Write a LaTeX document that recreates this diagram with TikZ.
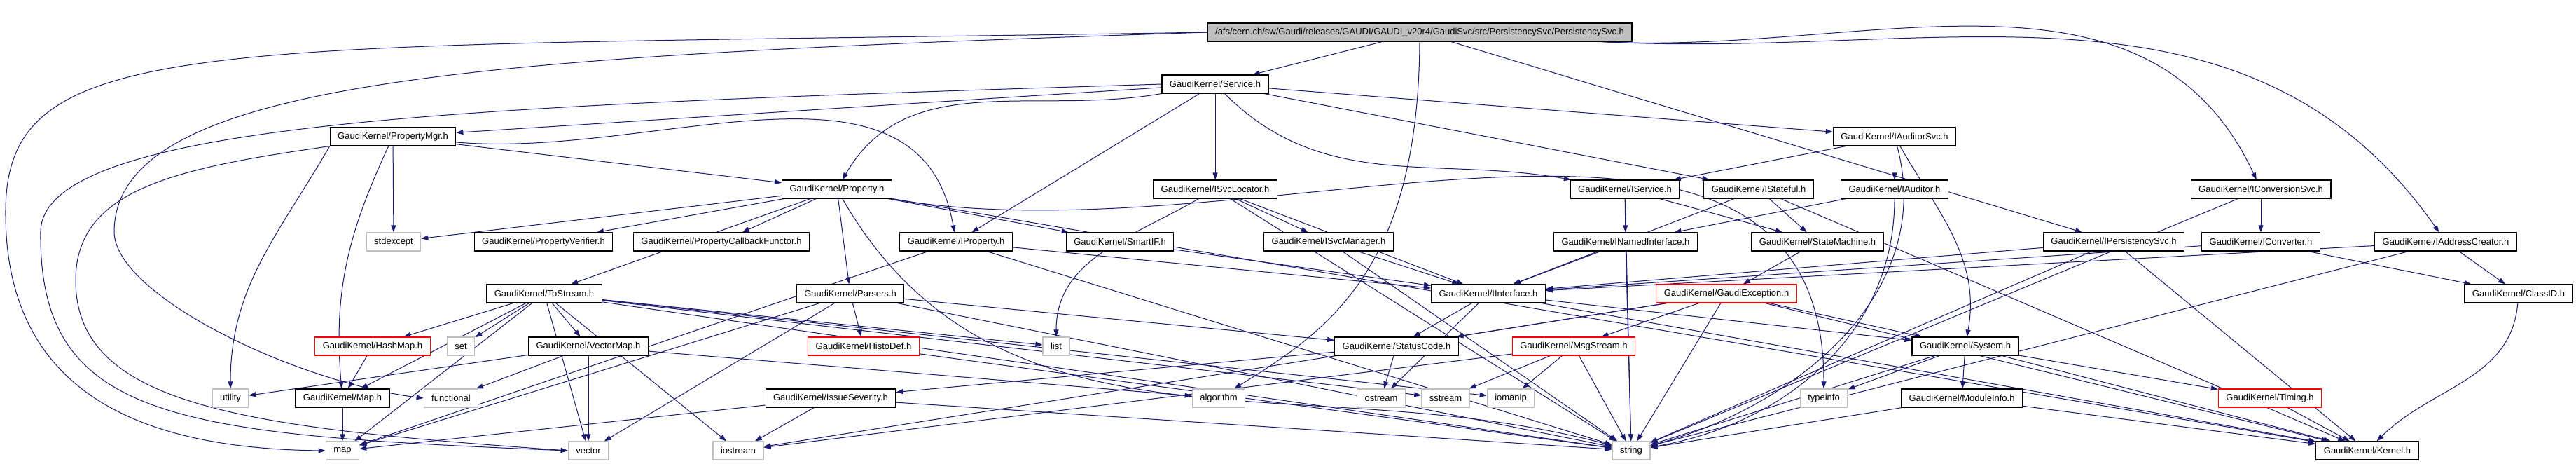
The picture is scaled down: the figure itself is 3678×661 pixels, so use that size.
\documentclass[tikz,border=0pt]{standalone}
\usepackage{fontspec}
\setmainfont{Liberation Sans}
\usepackage{xcolor}
\usepackage{tikz}
\usetikzlibrary{arrows.meta,backgrounds}
\definecolor{doxblue}{HTML}{191970}
\definecolor{doxgray}{HTML}{BFBFBF}
\tikzset{hfile/.style={rectangle,draw=black,fill=white,line width=0.6pt,inner xsep=5.5pt,
           minimum height=13pt,font=\fontsize{6.5}{7.5}\selectfont},
  sysfile/.style={hfile,draw=doxgray},
  redfile/.style={hfile,draw=red},
  rootfile/.style={hfile,fill=doxgray},
  dline/.style={draw=doxblue,line width=0.5pt}
}
\begin{document}
\begin{tikzpicture}[x=0.5pt,y=-0.5pt]
  \useasboundingbox (0,0) rectangle (3678,661);
  \begin{scope}[every node/.style={hfile}]
    \node[rootfile] (root) at (2027,46) {/afs/cern.ch/sw/Gaudi/releases/GAUDI/GAUDI\_v20r4/GaudiSvc/src/PersistencySvc/PersistencySvc.h};
    \node (service) at (1735,120) {GaudiKernel/Service.h};
    \node (propmgr) at (561,195) {GaudiKernel/PropertyMgr.h};
    \node (auditorsvc) at (2705,195) {GaudiKernel/IAuditorSvc.h};
    \node (property) at (1195,270) {GaudiKernel/Property.h};
    \node (svclocator) at (1735,270) {GaudiKernel/ISvcLocator.h};
    \node (iservice) at (2320,270) {GaudiKernel/IService.h};
    \node (istateful) at (2511,270) {GaudiKernel/IStateful.h};
    \node (iauditor) at (2705,270) {GaudiKernel/IAuditor.h};
    \node (convsvc) at (3228,270) {GaudiKernel/IConversionSvc.h};
    \node[sysfile] (stdexcept) at (562,345) {stdexcept};
    \node (propverifier) at (776,345) {GaudiKernel/PropertyVerifier.h};
    \node (propcallback) at (1030,345) {GaudiKernel/PropertyCallbackFunctor.h};
    \node (iproperty) at (1365,345) {GaudiKernel/IProperty.h};
    \node (smartif) at (1599,345) {GaudiKernel/SmartIF.h};
    \node (svcmanager) at (1897,345) {GaudiKernel/ISvcManager.h};
    \node (namedif) at (2321,345) {GaudiKernel/INamedInterface.h};
    \node (statemachine) at (2595,345) {GaudiKernel/StateMachine.h};
    \node (persistsvc) at (3018,345) {GaudiKernel/IPersistencySvc.h};
    \node (iconverter) at (3228,345) {GaudiKernel/IConverter.h};
    \node (addrcreator) at (3492,345) {GaudiKernel/IAddressCreator.h};
    \node (tostream) at (777,419) {GaudiKernel/ToStream.h};
    \node (parsers) at (1214,419) {GaudiKernel/Parsers.h};
    \node (iinterface) at (2125,419) {GaudiKernel/IInterface.h};
    \node[redfile] (gaudiexc) at (2465,419) {GaudiKernel/GaudiException.h};
    \node (classid) at (3596,419) {GaudiKernel/ClassID.h};
    \node[redfile] (hashmap) at (532,494) {GaudiKernel/HashMap.h};
    \node[sysfile] (set) at (658,494) {set};
    \node (vectormap) at (840,494) {GaudiKernel/VectorMap.h};
    \node[redfile] (histodef) at (1233,494) {GaudiKernel/HistoDef.h};
    \node[sysfile] (list) at (1508,494) {list};
    \node (statuscode) at (1994,494) {GaudiKernel/StatusCode.h};
    \node[redfile] (msgstream) at (2247,494) {GaudiKernel/MsgStream.h};
    \node (system) at (2806,494) {GaudiKernel/System.h};
    \node[sysfile] (utility) at (329,568) {utility};
    \node (maph) at (489,568) {GaudiKernel/Map.h};
    \node[sysfile] (functional) at (644,568) {functional};
    \node (issuesev) at (1186,568) {GaudiKernel/IssueSeverity.h};
    \node[sysfile] (algorithm) at (1740,568) {algorithm};
    \node[sysfile] (ostream) at (1972,568) {ostream};
    \node[sysfile] (sstream) at (2064,568) {sstream};
    \node[sysfile] (iomanip) at (2157,568) {iomanip};
    \node[sysfile] (typeinfo) at (2604,568) {typeinfo};
    \node (moduleinfo) at (2801,568) {GaudiKernel/ModuleInfo.h};
    \node[redfile] (timing) at (3241,568) {GaudiKernel/Timing.h};
    \node[sysfile] (map) at (489,643) {map};
    \node[sysfile] (vector) at (840,643) {vector};
    \node[sysfile] (iostream) at (1054,643) {iostream};
    \node[sysfile] (string) at (2329,643) {string};
    \node (kernel) at (3380,643) {GaudiKernel/Kernel.h};
  \end{scope}
  % include edges, kept behind the boxes:
  \begin{pgfonlayer}{background}
  \begin{scope}[>={Triangle[length=5pt,width=3.5pt]},
                every edge/.style={dline}]
    % the long ones round the left side
    \draw [dline,->] (root.west) .. controls (300,70) and (10,40) .. (8,300)
          .. controls (6,560) and (200,640) .. (map.west);
    \draw [dline,->] (root.west) .. controls (700,80) and (165,110) .. (163,330)
          .. controls (162,420) and (420,545) .. (functional.west);
    \draw [dline,->] (service.west) .. controls (700,150) and (62,170) .. (58,330)
          .. controls (55,600) and (250,620) .. (vector.west);
    \draw [dline,->] (propmgr.south west) .. controls (250,240) and (108,270) .. (108,400)
          .. controls (108,580) and (350,610) .. (vector.west);
    \draw [dline,->] (root.south) .. controls (2025,380) and (1900,470) .. (algorithm);
    \path [->] (root) edge (service);
    \path [->] (root) edge (persistsvc);
    \path [->] (root) edge[out=-3,in=115] (convsvc);
    \path [->] (root) edge[out=-3,in=125] (addrcreator);
    \path [->] (service) edge (propmgr);
    \path [->] (service) edge[out=190,in=60] (property);
    \path [->] (service) edge (iproperty);
    \path [->] (service) edge (svclocator);
    \path [->] (service) edge[out=-45,in=170] (iservice);
    \path [->] (service) edge (istateful);
    \path [->] (service) edge (auditorsvc);
    \path [->] (propmgr.south west) edge[out=-120,in=90] (utility);
    \path [->] (propmgr) edge[out=-115,in=95] (maph);
    \path [->] (propmgr) edge (stdexcept);
    \path [->] (propmgr) edge[out=-5,in=100] (iproperty);
    \path [->] (propmgr) edge (property);
    \path [->] (auditorsvc) edge (iservice);
    \path [->] (auditorsvc) edge (iauditor);
    \path [->] (auditorsvc) edge[out=-60,in=80] (system);
    \path [->] (auditorsvc) edge[out=-75,in=15] (string);
    \path [->] (property) edge (stdexcept);
    \path [->] (property) edge (propverifier);
    \path [->] (property) edge (propcallback);
    \path [->] (property) edge (tostream);
    \path [->] (property) edge (parsers);
    \path [->] (property) edge (smartif);
    \path [->] (property) edge[out=-60,in=165] (string);
    \path [->] (property) edge[out=-10,in=90] (typeinfo);
    \path [->] (property) edge (kernel);
    \path [->] (svclocator) edge (svcmanager);
    \path [->] (svclocator) edge (iinterface);
    \path [->] (svclocator) edge[out=-150,in=90] (list);
    \path [->] (svclocator) edge (string);
    \path [->] (iservice) edge (namedif);
    \path [->] (iservice) edge (statemachine);
    \path [->] (iservice) edge (string);
    \path [->] (istateful) edge (statemachine);
    \path [->] (istateful) edge (iinterface);
    \path [->] (istateful) edge (kernel);
    \path [->] (iauditor) edge (namedif);
    \path [->] (iauditor) edge[out=-90,in=10] (string);
    \path [->] (convsvc) edge (iconverter);
    \path [->] (convsvc) edge (string);
    \path [->] (iproperty) edge (iinterface);
    \path [->] (iproperty) edge (string);
    \path [->] (iproperty) edge (map);
    \path [->] (smartif) edge (iinterface);
    \path [->] (svcmanager) edge (iinterface);
    \path [->] (svcmanager) edge (string);
    \path [->] (namedif) edge (iinterface);
    \path [->] (namedif) edge (string);
    \path [->] (statemachine) edge (gaudiexc);
    \path [->] (persistsvc) edge (iinterface);
    \path [->] (persistsvc) edge (kernel);
    \path [->] (persistsvc) edge (string);
    \path [->] (iconverter) edge (iinterface);
    \path [->] (iconverter) edge (classid);
    \path [->] (addrcreator) edge (iinterface);
    \path [->] (addrcreator) edge (classid);
    \path [->] (addrcreator) edge (string);
    \path [->] (classid) edge[out=-95,in=45] (kernel);
    \path [->] (tostream) edge (hashmap);
    \path [->] (tostream) edge (set);
    \path [->] (tostream) edge (vectormap);
    \path [->] (tostream) edge (vector);
    \path [->] (tostream) edge (maph);
    \path [->] (tostream) edge (map);
    \path [->] (tostream) edge (list);
    \path [->] (tostream) edge (sstream);
    \path [->] (tostream) edge (iomanip);
    \path [->] (tostream) edge (iostream);
    \path [->] (tostream) edge (string);
    \path [->] (parsers) edge (histodef);
    \path [->] (parsers) edge (map);
    \path [->] (parsers) edge (vector);
    \path [->] (parsers) edge (string);
    \path [->] (parsers) edge (statuscode);
    \path [->] (histodef) edge (string);
    \path [->] (vectormap) edge (utility);
    \path [->] (vectormap) edge (functional);
    \path [->] (vectormap) edge (vector);
    \path [->] (vectormap) edge (algorithm);
    \path [->] (hashmap) edge (maph);
    \path [->] (maph) edge (map);
    \path [->] (issuesev) edge (iostream);
    \path [->] (issuesev) edge (string);
    \path [->] (issuesev) edge (map);
    \path [->] (statuscode) edge (ostream);
    \path [->] (statuscode) edge (issuesev);
    \path [->] (msgstream) edge (sstream);
    \path [->] (msgstream) edge (iomanip);
    \path [->] (msgstream) edge (string);
    \path [->] (msgstream) edge (iostream);
    \path [->] (gaudiexc) edge (statuscode);
    \path [->] (gaudiexc) edge (msgstream);
    \path [->] (gaudiexc) edge (string);
    \path [->] (gaudiexc) edge (iostream);
    \path [->] (gaudiexc) edge (system);
    \path [->] (gaudiexc) edge (kernel);
    \path [->] (iinterface) edge (statuscode);
    \path [->] (iinterface) edge (ostream);
    \path [->] (iinterface) edge (kernel);
    \path [->] (iinterface) edge (system);
    \path [->] (system) edge (typeinfo);
    \path [->] (system) edge (moduleinfo);
    \path [->] (system) edge (string);
    \path [->] (system) edge (timing);
    \path [->] (system) edge (kernel);
    \path [->] (moduleinfo) edge (string);
    \path [->] (moduleinfo) edge (kernel);
    \path [->] (timing) edge (kernel);
  \end{scope}
  \end{pgfonlayer}
\end{tikzpicture}
\end{document}
